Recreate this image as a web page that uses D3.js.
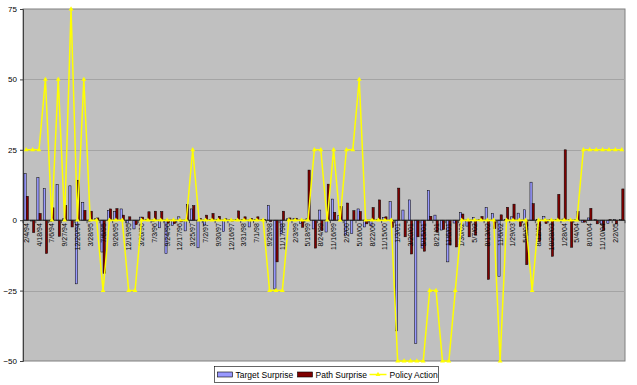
<!DOCTYPE html>
<html>
<head>
<meta charset="utf-8">
<script src="https://cdn.jsdelivr.net/npm/d3@7/dist/d3.min.js"></script>
<style>
    body { margin: 0; background: #fff; }
    text { font-family: "Liberation Sans", Arial, sans-serif; }
</style>
</head>
<body>
<div id="chart"></div>
<script>
// FOMC meeting dates (9/17/01 left out)
var dates = ['2/4/94', '3/22/94', '4/18/94', '5/17/94', '7/6/94', '8/16/94', '9/27/94', '11/15/94', '12/20/94',
    '2/1/95', '3/28/95', '5/23/95', '7/6/95', '8/22/95', '9/26/95', '11/15/95', '12/19/95',
    '1/31/96', '3/26/96', '5/21/96', '7/3/96', '8/20/96', '9/24/96', '11/13/96', '12/17/96',
    '2/5/97', '3/25/97', '5/20/97', '7/2/97', '8/19/97', '9/30/97', '11/12/97', '12/16/97',
    '2/4/98', '3/31/98', '5/19/98', '7/1/98', '8/18/98', '9/29/98', '10/15/98', '11/17/98', '12/22/98',
    '2/3/99', '3/30/99', '5/18/99', '6/30/99', '8/24/99', '10/5/99', '11/16/99', '12/21/99',
    '2/2/00', '3/21/00', '5/16/00', '6/28/00', '8/22/00', '10/3/00', '11/15/00', '12/19/00',
    '1/3/01', '1/31/01', '3/20/01', '4/18/01', '5/15/01', '6/27/01', '8/21/01', '10/2/01', '11/6/01', '12/11/01',
    '1/30/02', '3/19/02', '5/7/02', '6/26/02', '8/13/02', '9/24/02', '11/6/02', '12/10/02',
    '1/29/03', '3/18/03', '5/6/03', '6/25/03', '8/12/03', '9/16/03', '10/28/03', '12/9/03',
    '1/28/04', '3/16/04', '5/4/04', '6/30/04', '8/10/04', '9/21/04', '11/10/04', '12/14/04',
    '2/2/05', '3/22/05'];

var targetSurprise = [16.5, -0.3, 15.1, 11.2, -0.5, 12.6, 0.5, 12.2, -22.6,
    6.3, -0.5, 0.5, -11.3, 3.5, 3.1, 4.0, -1.0,
    -3.1, 1.1, 0.3, -0.5, -2.7, -11.9, -1.8, 1.2,
    -3.8, 4.0, -9.8, -1.8, 0.3, 0.3, -4.1, 0.3,
    0.3, 0.3, -2.4, 0.3, 0.3, 5.2, -24.4, -4.8, 0.5,
    0.7, -1.1, 0.5, -3.1, 3.6, -4.2, 7.5, 1.6,
    -5.3, -4.8, 4.0, -2.4, -2.0, 0.3, 1.0, 6.6,
    -39.3, 3.6, 7.2, -43.8, -9.9, 10.6, 1.8, -3.5, -14.8, -1.0,
    2.7, -2.1, 1.0, 0.3, 4.5, 2.4, -19.9, 0.2,
    1.2, 2.5, 3.7, 13.5, 0.3, 1.3, 0.2, 0.2,
    0.4, 0.2, 0.3, -0.7, 0.8, 0.2, -1.3, -1.1,
    0.2, 0.2];

var pathSurprise = [8.5, -4.4, 2.4, -11.8, 4.4, -5.7, 5.2, -2.4, 14.2,
    3.5, 3.2, 0.8, -18.9, 4.0, 4.1, 1.8, 1.2,
    -1.6, 1.1, 3.0, 3.2, 3.1, -1.0, -1.2, -0.6,
    5.5, 5.2, 0.6, 1.8, 2.4, 1.4, 0.5, -0.3,
    3.3, 1.2, 0.6, 1.2, 0.3, -0.5, -14.8, 3.2, 0.8,
    0.7, -2.5, 17.8, -9.9, -3.7, 12.8, 2.8, 4.8,
    6.1, 3.4, 3.1, -1.3, 4.5, 7.2, 1.2, -2.6,
    11.4, -5.9, -12.0, -5.9, -11.0, 1.4, -4.2, -3.3, -8.8, -9.5,
    2.2, -5.9, -5.3, 1.3, -21.0, -3.0, 1.9, 4.6,
    5.7, -2.2, -15.8, 5.9, -7.6, -1.2, -12.8, 9.2,
    25.0, -9.6, 3.1, -0.7, 4.2, -1.3, -3.6, 0.2,
    -1.3, 11.1];

var policyAction = [25, 25, 25, 50, 0, 50, 0, 75, 0,
    50, 0, 0, -25, 0, 0, 0, -25,
    -25, 0, 0, 0, 0, 0, 0, 0,
    0, 25, 0, 0, 0, 0, 0, 0,
    0, 0, 0, 0, 0, -25, -25, -25, 0,
    0, 0, 0, 25, 25, 0, 25, 0,
    25, 25, 50, 0, 0, 0, 0, 0,
    -50, -50, -50, -50, -50, -25, -25, -50, -50, -25,
    0, 0, 0, 0, 0, 0, -50, 0,
    0, 0, 0, -25, 0, 0, 0, 0,
    0, 0, 0, 25, 25, 25, 25, 25,
    25, 25];

var yTicks = [-50, -25, 0, 25, 50, 75];
var seriesNames = ['Target Surprise', 'Path Surprise', 'Policy Action'];

var width = 637,
    height = 385,
    plot = {left: 23, right: 625, top: 9, bottom: 361};

var svg = d3.select('#chart')
    .append('svg')
    .attr('width', width)
    .attr('height', height);

var x = d3.scaleBand()
    .domain(d3.range(dates.length))
    .range([plot.left, plot.right]);

var xSeries = d3.scaleBand()
    .domain(['target', 'path'])
    .range([1, x.bandwidth() - 1]);

var y = d3.scaleLinear()
    .domain([-50, 75])
    .range([plot.bottom, plot.top]);

// plot background
svg.append('rect')
    .attr('x', plot.left)
    .attr('y', plot.top)
    .attr('width', plot.right - plot.left)
    .attr('height', plot.bottom - plot.top)
    .attr('fill', '#c0c0c0')
    .attr('stroke', '#808080')
    .attr('stroke-width', 1);

// gridlines
svg.append('g')
    .selectAll('line')
    .data(yTicks.filter(function (d) { return d !== 0 && d !== -50 && d !== 75; }))
    .enter()
    .append('line')
    .attr('x1', plot.left)
    .attr('x2', plot.right)
    .attr('y1', function (d) { return Math.round(y(d)) + 0.5; })
    .attr('y2', function (d) { return Math.round(y(d)) + 0.5; })
    .attr('stroke', '#a4a4a4')
    .attr('stroke-width', 1);

// y axis
var yAxis = svg.append('g')
    .attr('transform', 'translate(' + plot.left + ',0)')
    .call(d3.axisLeft(y).tickValues(yTicks).tickSize(3).tickPadding(3));
yAxis.select('.domain').attr('stroke', '#404040');
yAxis.selectAll('.tick line').attr('stroke', '#404040');
yAxis.selectAll('text')
    .attr('font-size', 8)
    .attr('fill', '#000')
    .style('font-family', '"Liberation Sans", Arial, sans-serif');

// bars
var addBars = function (values, key, fill) {
    svg.append('g')
        .selectAll('rect')
        .data(values)
        .enter()
        .append('rect')
        .attr('x', function (d, i) { return x(i) + xSeries(key); })
        .attr('width', xSeries.bandwidth())
        .attr('y', function (d) { return y(Math.max(0, d)); })
        .attr('height', function (d) { return Math.abs(y(d) - y(0)); })
        .attr('fill', fill)
        .attr('stroke', '#000')
        .attr('stroke-width', 0.5);
};

addBars(targetSurprise, 'target', '#9999ff');
addBars(pathSurprise, 'path', '#800000');

// category axis on the zero line
svg.append('line')
    .attr('x1', plot.left)
    .attr('x2', plot.right)
    .attr('y1', y(0))
    .attr('y2', y(0))
    .attr('stroke', '#202020')
    .attr('stroke-width', 1);

svg.append('g')
    .selectAll('line')
    .data(d3.range(0, dates.length + 1, 2))
    .enter()
    .append('line')
    .attr('x1', function (i) { return plot.left + i * x.step(); })
    .attr('x2', function (i) { return plot.left + i * x.step(); })
    .attr('y1', y(0))
    .attr('y2', y(0) + 3)
    .attr('stroke', '#202020')
    .attr('stroke-width', 0.7);

svg.append('g')
    .selectAll('text')
    .data(dates.filter(function (d, i) { return i % 2 === 0; }))
    .enter()
    .append('text')
    .attr('transform', function (d, j) {
        return 'translate(' + (x(j * 2) + x.bandwidth() / 2 + 2.5) + ',' + (y(0) + 3) + ') rotate(-90)';
    })
    .attr('text-anchor', 'end')
    .attr('font-size', 7)
    .attr('fill', '#000')
    .text(function (d) { return d; });

// policy action line
var line = d3.line()
    .x(function (d, i) { return x(i) + x.bandwidth() / 2; })
    .y(function (d) { return y(d); });

svg.append('path')
    .datum(policyAction)
    .attr('d', line)
    .attr('fill', 'none')
    .attr('stroke', '#ffff00')
    .attr('stroke-width', 1.5);

var marker = d3.symbol().type(d3.symbolTriangle).size(10);

svg.append('g')
    .selectAll('path')
    .data(policyAction)
    .enter()
    .append('path')
    .attr('d', marker)
    .attr('transform', function (d, i) {
        return 'translate(' + (x(i) + x.bandwidth() / 2) + ',' + y(d) + ')';
    })
    .attr('fill', '#ffff00');

// legend
var legend = svg.append('g')
    .attr('transform', 'translate(214.5,366.5)');

legend.append('rect')
    .attr('width', 224)
    .attr('height', 16)
    .attr('fill', '#fff')
    .attr('stroke', '#000')
    .attr('stroke-width', 0.6);

legend.append('rect')
    .attr('x', 3)
    .attr('y', 5.5)
    .attr('width', 15)
    .attr('height', 5)
    .attr('fill', '#9999ff')
    .attr('stroke', '#000')
    .attr('stroke-width', 0.6);

legend.append('rect')
    .attr('x', 83)
    .attr('y', 5.5)
    .attr('width', 15)
    .attr('height', 5)
    .attr('fill', '#800000')
    .attr('stroke', '#000')
    .attr('stroke-width', 0.6);

legend.append('line')
    .attr('x1', 155)
    .attr('x2', 172)
    .attr('y1', 8)
    .attr('y2', 8)
    .attr('stroke', '#ffff00')
    .attr('stroke-width', 1.5);

legend.append('path')
    .attr('d', marker)
    .attr('transform', 'translate(163.5,8)')
    .attr('fill', '#ffff00');

legend.selectAll('text.label')
    .data(seriesNames)
    .enter()
    .append('text')
    .attr('class', 'label')
    .attr('x', function (d, i) { return [21, 101, 175][i]; })
    .attr('y', 11.5)
    .attr('font-size', 8.5)
    .attr('fill', '#000')
    .text(function (d) { return d; });
</script>
</body>
</html>
